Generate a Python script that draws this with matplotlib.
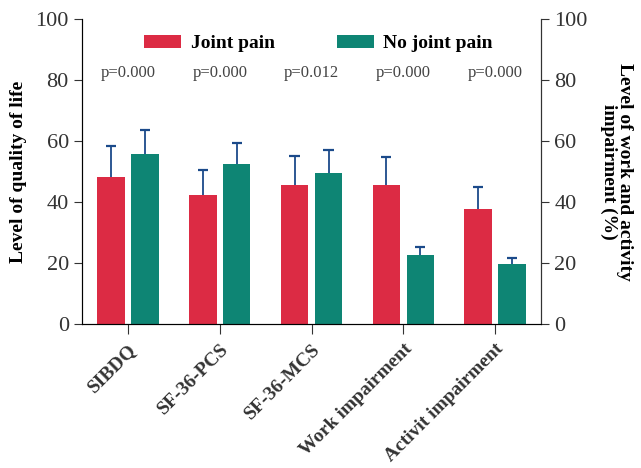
"""Quality of life and work impairment by joint pain status."""

import matplotlib

matplotlib.use("Agg")
import matplotlib.pyplot as plt
import numpy as np

categories = ["SIBDQ", "SF-36-PCS", "SF-36-MCS", "Work impairment", "Activit impairment"]
joint_pain = [48.2, 42.3, 45.6, 45.6, 37.7]
joint_pain_err = [10.2, 8.3, 9.6, 9.3, 7.3]
no_joint_pain = [55.7, 52.5, 49.5, 22.6, 19.7]
no_joint_pain_err = [7.9, 6.9, 7.5, 2.6, 2.0]
p_values = ["p=0.000", "p=0.000", "p=0.012", "p=0.000", "p=0.000"]

RED = "#DC2B44"
GREEN = "#0E8574"
ERR = "#1B4A8A"

plt.rcParams["font.family"] = ["Liberation Serif", "DejaVu Serif"]

fig = plt.figure(figsize=(6.41, 4.68), dpi=100)
ax = fig.add_axes([0.128, 0.308, 0.716, 0.651])

x = np.arange(len(categories))
width = 0.30
offset = 0.185
cap = 0.055

for xpos, vals, errs, color, label in [
    (x - offset, joint_pain, joint_pain_err, RED, "Joint pain"),
    (x + offset, no_joint_pain, no_joint_pain_err, GREEN, "No joint pain"),
]:
    vals = np.asarray(vals)
    tops = vals + np.asarray(errs)
    ax.bar(xpos, vals, width, color=color, label=label, zorder=2)
    # upper error only, as in the original figure
    ax.vlines(xpos, vals, tops, color=ERR, linewidth=1.3, zorder=3)
    ax.hlines(tops, xpos - cap, xpos + cap, color=ERR, linewidth=1.6, zorder=3)

for xi, p in zip(x, p_values):
    ax.text(xi, 82.5, p, ha="center", va="center", fontsize=12, color="#444444")

ax.set_xlim(-0.5, 4.5)
ax.set_ylim(0, 100)
ax.set_yticks(range(0, 101, 20))
ax.set_xticks(x)
ax.set_xticklabels(categories, rotation=45, ha="right", rotation_mode="anchor",
                   fontsize=14, fontweight="bold", color="#222222")
ax.tick_params(axis="y", labelsize=16, direction="out", length=6, colors="#333333")
ax.tick_params(axis="x", direction="out", length=7, pad=5, colors="#333333")
ax.set_ylabel("Level of quality of life", fontsize=14, fontweight="bold", labelpad=6)
ax.spines["top"].set_visible(False)
for side in ("left", "right", "bottom"):
    ax.spines[side].set_color("#333333")

ax2 = ax.twinx()
ax2.set_ylim(0, 100)
ax2.set_yticks(range(0, 101, 20))
ax2.tick_params(axis="y", labelsize=16, direction="out", length=6, colors="#333333")
ax2.set_ylabel("Level of work and activity\nimpairment (%)", fontsize=14,
               fontweight="bold", rotation=270, labelpad=33, linespacing=0.95)
ax2.spines["top"].set_visible(False)
ax2.spines["right"].set_color("#333333")

ax.legend(loc="upper center", bbox_to_anchor=(0.515, 1.005), ncol=2, frameon=False,
          prop={"size": 14, "weight": "bold"}, handlelength=1.9, handleheight=0.6,
          columnspacing=3.2, handletextpad=0.5)

fig.savefig("out.png", dpi=100)
